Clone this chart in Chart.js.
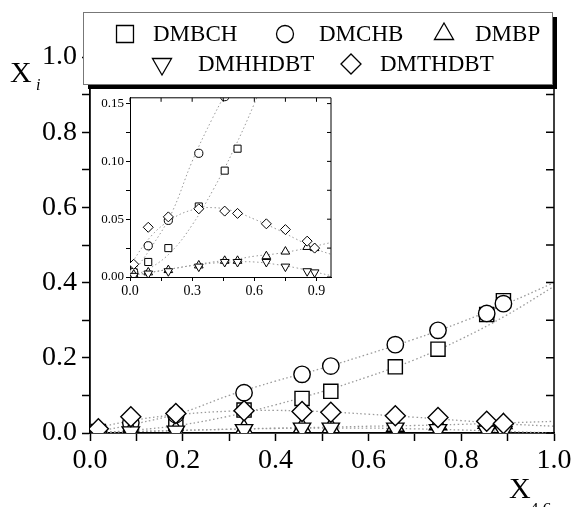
<!DOCTYPE html>
<html>
<head>
<meta charset="utf-8">
<script src="https://cdn.jsdelivr.net/npm/chart.js@4/dist/chart.umd.min.js"></script>
<style>
  body { margin: 0; background: #fff; }
  #wrap { position: relative; width: 575px; height: 507px; }
  #mainChart { position: absolute; left: 0; top: 0; }
  #insetChart { position: absolute; left: 80px; top: 88px; }
</style>
</head>
<body>
<div id="wrap">
  <canvas id="mainChart" width="575" height="507"></canvas>
  <canvas id="insetChart" width="265" height="215"></canvas>
</div>
<script>
// mole fraction of 4,6-DMDBT (x axis)
const x46 = [0.018, 0.088, 0.185, 0.332, 0.457, 0.519, 0.658, 0.75, 0.855, 0.891];

// product mole fractions X_i
const dmbch = [0.004, 0.013, 0.025, 0.061, 0.092, 0.111, 0.176, 0.223, 0.315, 0.352];
const dmchb = [0.004, 0.027, 0.049, 0.107, 0.156, 0.178, 0.235, 0.273, 0.318, 0.344];
const dmbp = [0.002, 0.004, 0.006, 0.010, 0.014, 0.014, 0.018, 0.022, 0.026, 0.025];
const dmhhdbt = [0.001, 0.003, 0.005, 0.009, 0.013, 0.013, 0.013, 0.009, 0.005, 0.004];
const dmthdbt = [0.011, 0.043, 0.052, 0.059, 0.057, 0.055, 0.046, 0.041, 0.031, 0.025];

// dotted fit curves
const fitX = [0, 0.1, 0.2, 0.3, 0.4, 0.5, 0.6, 0.7, 0.8, 0.9, 1.0];
const fitDmbch = [0.0, 0.008, 0.022, 0.045, 0.075, 0.11, 0.15, 0.195, 0.25, 0.315, 0.39];
const fitDmchb = [0.0, 0.025, 0.055, 0.10, 0.138, 0.172, 0.21, 0.25, 0.295, 0.345, 0.40];
const fitDmbp = [0.001, 0.004, 0.007, 0.010, 0.013, 0.015, 0.018, 0.020, 0.023, 0.027, 0.031];
const fitDmhhdbt = [0.001, 0.004, 0.007, 0.010, 0.012, 0.013, 0.013, 0.011, 0.008, 0.004, 0.0];
const fitDmthdbt = [0.01, 0.035, 0.05, 0.058, 0.06, 0.057, 0.05, 0.042, 0.033, 0.024, 0.018];

const seriesNames = ["DMBCH", "DMCHB", "DMBP", "DMHHDBT", "DMTHDBT"];

const FONT = "'Liberation Serif', 'Times New Roman', serif";

const styles = [
  { data: dmbch, fit: fitDmbch, pointStyle: "rect", rotation: 0, size: 1.0, order: 5 },
  { data: dmchb, fit: fitDmchb, pointStyle: "circle", rotation: 0, size: 0.82, order: 4 },
  { data: dmbp, fit: fitDmbp, pointStyle: "triangle", rotation: 0, size: 1.0, order: 3 },
  { data: dmhhdbt, fit: fitDmhhdbt, pointStyle: "triangle", rotation: 180, size: 1.0, order: 2 },
  { data: dmthdbt, fit: fitDmthdbt, pointStyle: "rectRot", rotation: 0, size: 1.0, order: 1 },
];

function buildDatasets(radius, borderWidth, fitWidth) {
  const sets = [];
  styles.forEach((s, i) => {
    sets.push({
      type: "line",
      label: seriesNames[i] + " fit",
      data: fitX.map((x, k) => ({ x: x, y: s.fit[k] })),
      borderColor: "#9a9a9a",
      borderWidth: fitWidth,
      borderDash: [1.5, 2.5],
      pointRadius: 0,
      tension: 0.4,
      fill: false,
      order: 10,
    });
  });
  styles.forEach((s, i) => {
    sets.push({
      type: "scatter",
      label: seriesNames[i],
      data: x46.map((x, k) => ({ x: x, y: s.data[k] })),
      pointStyle: s.pointStyle,
      rotation: s.rotation,
      pointRadius: radius * s.size,
      pointBackgroundColor: "#fff",
      pointBorderColor: "#000",
      pointBorderWidth: borderWidth,
      clip: 0,
      order: s.order,
    });
  });
  return sets;
}

// ticks on the right (and top) edges point inwards, like the original
function mirrorTicks(len, width, drawTop) {
  return {
    id: "mirrorTicks",
    afterDatasetsDraw(chart) {
      const { ctx, chartArea } = chart;
      const xs = chart.scales.x;
      const ys = chart.scales.y;
      ctx.save();
      ctx.strokeStyle = "#000";
      ctx.lineWidth = width;
      ctx.beginPath();
      ctx.moveTo(chartArea.right, chartArea.bottom);
      ctx.lineTo(chartArea.right, chartArea.top);
      if (drawTop) ctx.lineTo(chartArea.left, chartArea.top);
      ys.ticks.forEach((t) => {
        const py = ys.getPixelForValue(t.value);
        ctx.moveTo(chartArea.right, py);
        ctx.lineTo(chartArea.right - len, py);
      });
      if (drawTop) {
        xs.ticks.forEach((t) => {
          const px = xs.getPixelForValue(t.value);
          ctx.moveTo(px, chartArea.top);
          ctx.lineTo(px, chartArea.top + len);
        });
      }
      ctx.stroke();
      ctx.restore();
    },
  };
}

const legendItems = [
  { idx: 0, mx: 125, tx: 153, y: 34, r: 12 },
  { idx: 1, mx: 285, tx: 319, y: 34, r: 8.5 },
  { idx: 2, mx: 444, tx: 475, y: 34, r: 11 },
  { idx: 3, mx: 162, tx: 198, y: 64, r: 11 },
  { idx: 4, mx: 351, tx: 380, y: 64, r: 10 },
];

const boxLegend = {
  id: "boxLegend",
  afterDraw(chart) {
    const ctx = chart.ctx;
    ctx.save();
    // shadow
    ctx.fillStyle = "#000";
    ctx.fillRect(88, 17, 469, 72);
    ctx.fillStyle = "#fff";
    ctx.fillRect(83, 12, 469, 72);
    ctx.strokeStyle = "#777";
    ctx.lineWidth = 1;
    ctx.strokeRect(83.5, 12.5, 469, 72);

    ctx.fillStyle = "#000";
    ctx.font = "23px " + FONT;
    ctx.textBaseline = "middle";
    legendItems.forEach((it) => {
      const s = styles[it.idx];
      ctx.strokeStyle = "#000";
      ctx.fillStyle = "#fff";
      ctx.lineWidth = 1.3;
      Chart.helpers.drawPoint(ctx, {
        pointStyle: s.pointStyle,
        rotation: s.rotation,
        radius: it.r,
        borderWidth: 1.3,
      }, it.mx, it.y);
      ctx.fillStyle = "#000";
      ctx.fillText(seriesNames[it.idx], it.tx, it.y + 1);
    });

    // axis titles
    ctx.font = "30px " + FONT;
    ctx.textBaseline = "alphabetic";
    ctx.fillText("X", 10, 82);
    ctx.font = "italic 16px " + FONT;
    ctx.fillText("i", 36, 90);
    ctx.font = "30px " + FONT;
    ctx.fillText("X", 509, 498);
    ctx.font = "17px " + FONT;
    ctx.fillText("4,6", 530, 514);
    ctx.restore();
  },
};

const mainConfig = {
  type: "scatter",
  data: { datasets: buildDatasets(10, 1.4, 1.3) },
  options: {
    responsive: false,
    animation: false,
    events: [],
    devicePixelRatio: 1,
    layout: { padding: { left: 0, right: 21, top: 57, bottom: 0 } },
    plugins: { legend: { display: false }, tooltip: { enabled: false } },
    scales: {
      x: {
        type: "linear",
        min: 0,
        max: 1,
        afterFit: (scale) => { scale.height = 74; },
        grid: { drawOnChartArea: false, tickLength: 8, color: "#000", tickWidth: 1.5 },
        border: { color: "#000", width: 1.8 },
        ticks: {
          stepSize: 0.1,
          padding: 3,
          color: "#000",
          maxRotation: 0,
          autoSkip: false,
          font: { family: FONT, size: 28 },
          callback: (v) => (Math.round(v * 10) % 2 === 0 ? v.toFixed(1) : ""),
        },
      },
      y: {
        type: "linear",
        min: 0,
        max: 1,
        afterFit: (scale) => { scale.width = 90; },
        grid: { drawOnChartArea: false, tickLength: 8, color: "#000", tickWidth: 1.5 },
        border: { color: "#000", width: 1.8 },
        ticks: {
          stepSize: 0.1,
          padding: 5,
          color: "#000",
          autoSkip: false,
          font: { family: FONT, size: 28 },
          callback: (v) => (Math.round(v * 10) % 2 === 0 ? v.toFixed(1) : ""),
        },
      },
    },
  },
  plugins: [mirrorTicks(8, 1.5, false), boxLegend],
};

const insetBackground = {
  id: "insetBackground",
  beforeDraw(chart) {
    const { ctx, chartArea } = chart;
    ctx.save();
    ctx.fillStyle = "#fff";
    ctx.fillRect(chartArea.left, chartArea.top, chartArea.right - chartArea.left, chartArea.bottom - chartArea.top);
    ctx.restore();
  },
};

const insetConfig = {
  type: "scatter",
  data: { datasets: buildDatasets(5, 1, 1) },
  options: {
    responsive: false,
    animation: false,
    events: [],
    devicePixelRatio: 1,
    layout: { padding: { left: 0, right: 14, top: 9, bottom: 0 } },
    plugins: { legend: { display: false }, tooltip: { enabled: false } },
    scales: {
      x: {
        type: "linear",
        min: 0,
        max: 0.97,
        afterFit: (scale) => { scale.height = 26; },
        grid: { drawOnChartArea: false, tickLength: 4, color: "#000", tickWidth: 1 },
        border: { color: "#000", width: 1 },
        ticks: {
          stepSize: 0.15,
          includeBounds: false,
          padding: 2,
          color: "#000",
          maxRotation: 0,
          autoSkip: false,
          font: { family: FONT, size: 14 },
          callback: (v) => (Math.round(v / 0.15) % 2 === 0 ? v.toFixed(1) : ""),
        },
      },
      y: {
        type: "linear",
        min: 0,
        max: 0.155,
        afterFit: (scale) => { scale.width = 50; },
        grid: { drawOnChartArea: false, tickLength: 4, color: "#000", tickWidth: 1 },
        border: { color: "#000", width: 1 },
        ticks: {
          stepSize: 0.025,
          includeBounds: false,
          padding: 2,
          color: "#000",
          autoSkip: false,
          font: { family: FONT, size: 13 },
          callback: (v) => (Math.round(v / 0.025) % 2 === 0 ? v.toFixed(2) : ""),
        },
      },
    },
  },
  plugins: [insetBackground, mirrorTicks(4, 1, true)],
};

new Chart(document.getElementById("mainChart"), mainConfig);
new Chart(document.getElementById("insetChart"), insetConfig);
</script>
</body>
</html>
